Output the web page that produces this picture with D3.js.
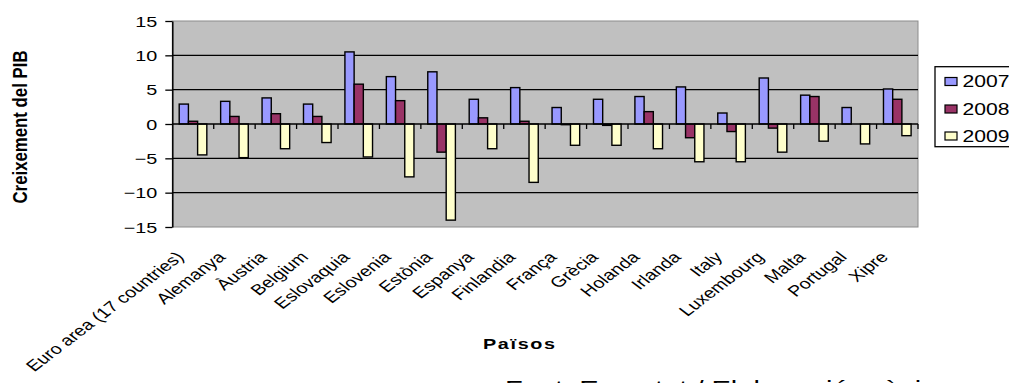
<!DOCTYPE html>
<html>
<head>
<meta charset="utf-8">
<script src="https://cdn.jsdelivr.net/npm/d3@7"></script>
<style>
  body { margin: 0; background: #fff; }
  svg { display: block; }
  text { font-family: "Liberation Sans", Arial, sans-serif; fill: #000; }
</style>
</head>
<body>
<script>
// GDP growth by country, 2007–2009 (%)
const categories = [
  "Euro area (17 countries)", "Alemanya", "Àustria", "Belgium", "Eslovaquia",
  "Eslovenia", "Estònia", "Espanya", "Finlandia", "França", "Grècia",
  "Holanda", "Irlanda", "Italy", "Luxembourg", "Malta", "Portugal", "Xipre"
];
const years = ["2007", "2008", "2009"];
const growth2007 = [2.9, 3.3, 3.8, 2.9, 10.5, 6.9, 7.6, 3.6, 5.3, 2.4, 3.6, 4.0, 5.4, 1.6, 6.7, 4.2, 2.4, 5.1];
const growth2008 = [0.4, 1.1, 1.5, 1.1, 5.8, 3.4, -4.1, 0.9, 0.4, -0.1, -0.2, 1.8, -2.0, -1.1, -0.6, 4.0, 0.0, 3.6];
const growth2009 = [-4.5, -4.9, -3.6, -2.7, -4.8, -7.7, -14.0, -3.6, -8.5, -3.1, -3.1, -3.6, -5.5, -5.5, -4.1, -2.5, -2.9, -1.7];
const yTicks = [-15, -10, -5, 0, 5, 10, 15];
const yearColors = ["#9999FF", "#993366", "#FFFFCC"];

const series = [growth2007, growth2008, growth2009];

const W = 1009, H = 383;
const SX = 1.32; // horizontal stretch applied to all text glyphs
const plot = { left: 172.3, right: 918, top: 21, bottom: 227 };

const svg = d3.select("body").append("svg")
  .attr("width", W).attr("height", H);

const x = d3.scaleBand()
  .domain(categories)
  .range([plot.left, plot.right])
  .paddingInner(1.5 / 4.5)
  .paddingOuter(0.75 / 4.5);

const xYear = d3.scaleBand()
  .domain(years)
  .range([0, x.bandwidth()]);

const y = d3.scaleLinear()
  .domain([-15, 15])
  .range([plot.bottom, plot.top]);

// plot area
svg.append("rect")
  .attr("x", plot.left).attr("y", plot.top)
  .attr("width", plot.right - plot.left).attr("height", plot.bottom - plot.top)
  .attr("fill", "#C0C0C0")
  .attr("stroke", "#8c8c8c").attr("stroke-width", 1);

// horizontal gridlines
svg.append("g")
  .selectAll("line")
  .data(yTicks.filter(d => d !== 0 && d !== -15 && d !== 15))
  .join("line")
  .attr("x1", plot.left).attr("x2", plot.right)
  .attr("y1", d => y(d)).attr("y2", d => y(d))
  .attr("stroke", "#000").attr("stroke-width", 1.3);

// bars
const groups = svg.append("g")
  .selectAll("g")
  .data(categories)
  .join("g")
  .attr("transform", d => `translate(${x(d)},0)`);

groups.selectAll("rect")
  .data((c, i) => years.map((yr, k) => ({ yr, k, v: series[k][i] })))
  .join("rect")
  .attr("x", d => xYear(d.yr))
  .attr("width", xYear.bandwidth())
  .attr("y", d => Math.min(y(d.v), y(0)))
  .attr("height", d => Math.abs(y(d.v) - y(0)))
  .attr("fill", d => yearColors[d.k])
  .attr("stroke", "#000").attr("stroke-width", 1.4);

// category axis on the zero line, ticks between categories
svg.append("line")
  .attr("x1", plot.left).attr("x2", plot.right)
  .attr("y1", y(0)).attr("y2", y(0))
  .attr("stroke", "#000").attr("stroke-width", 1.3);

svg.append("g")
  .selectAll("line")
  .data(d3.range(1, categories.length + 1))
  .join("line")
  .attr("x1", i => plot.left + i * x.step())
  .attr("x2", i => plot.left + i * x.step())
  .attr("y1", y(0)).attr("y2", y(0) + 5)
  .attr("stroke", "#000").attr("stroke-width", 1.3);

// value axis
const yAxis = svg.append("g")
  .attr("transform", `translate(${plot.left},0)`)
  .call(d3.axisLeft(y).tickValues(yTicks).tickSize(7).tickSizeOuter(0).tickFormat(d3.format("d")));
yAxis.select(".domain").attr("stroke", "#000").attr("stroke-width", 1.5);
yAxis.selectAll(".tick line").attr("stroke", "#000").attr("stroke-width", 1.3);
yAxis.selectAll(".tick text")
  .attr("x", null).attr("dy", null)
  .attr("transform", `translate(-15,0) scale(${SX},1)`)
  .attr("dominant-baseline", "central")
  .attr("font-size", 15)
  .attr("fill", "#000")
  .style("font-family", "'Liberation Sans', Arial, sans-serif");

// rotated category labels
svg.append("g")
  .selectAll("text")
  .data(categories)
  .join("text")
  .attr("text-anchor", "end")
  .attr("font-size", 15)
  .attr("transform", d => `translate(${x(d) + x.bandwidth() / 2 - 8},258) scale(${SX},1) rotate(-45)`)
  .text(d => d);

// axis titles
svg.append("text")
  .attr("text-anchor", "middle")
  .attr("font-size", 16).attr("font-weight", "bold")
  .attr("textLength", 153).attr("lengthAdjust", "spacingAndGlyphs")
  .attr("transform", `translate(27,127) scale(${SX},1) rotate(-90)`)
  .text("Creixement del PIB");

svg.append("text")
  .attr("text-anchor", "middle")
  .attr("font-size", 15).attr("font-weight", "bold")
  .attr("textLength", 72 / SX).attr("lengthAdjust", "spacing")
  .attr("transform", `translate(519,349) scale(${SX},1)`)
  .text("Països");

// source note
svg.append("text")
  .attr("font-size", 22)
  .attr("transform", `translate(505,396) scale(${SX},1)`)
  .text("Font: Eurostat / Elaboració pròpia");

// legend
const legend = svg.append("g");
legend.append("rect")
  .attr("x", 935).attr("y", 66.7)
  .attr("width", 90).attr("height", 80)
  .attr("fill", "#fff").attr("stroke", "#000").attr("stroke-width", 1.3);

const legendRows = [81.5, 109, 136];
const item = legend.selectAll("g.item")
  .data(years)
  .join("g")
  .attr("class", "item")
  .attr("transform", (d, i) => `translate(0,${legendRows[i]})`);
item.append("rect")
  .attr("x", 945).attr("y", -4)
  .attr("width", 12).attr("height", 8)
  .attr("fill", (d, i) => yearColors[i])
  .attr("stroke", "#000").attr("stroke-width", 1.2);
item.append("text")
  .attr("font-size", 16)
  .attr("dominant-baseline", "central")
  .attr("transform", `translate(962.5,0) scale(${SX},1)`)
  .text(d => d);
</script>
</body>
</html>
